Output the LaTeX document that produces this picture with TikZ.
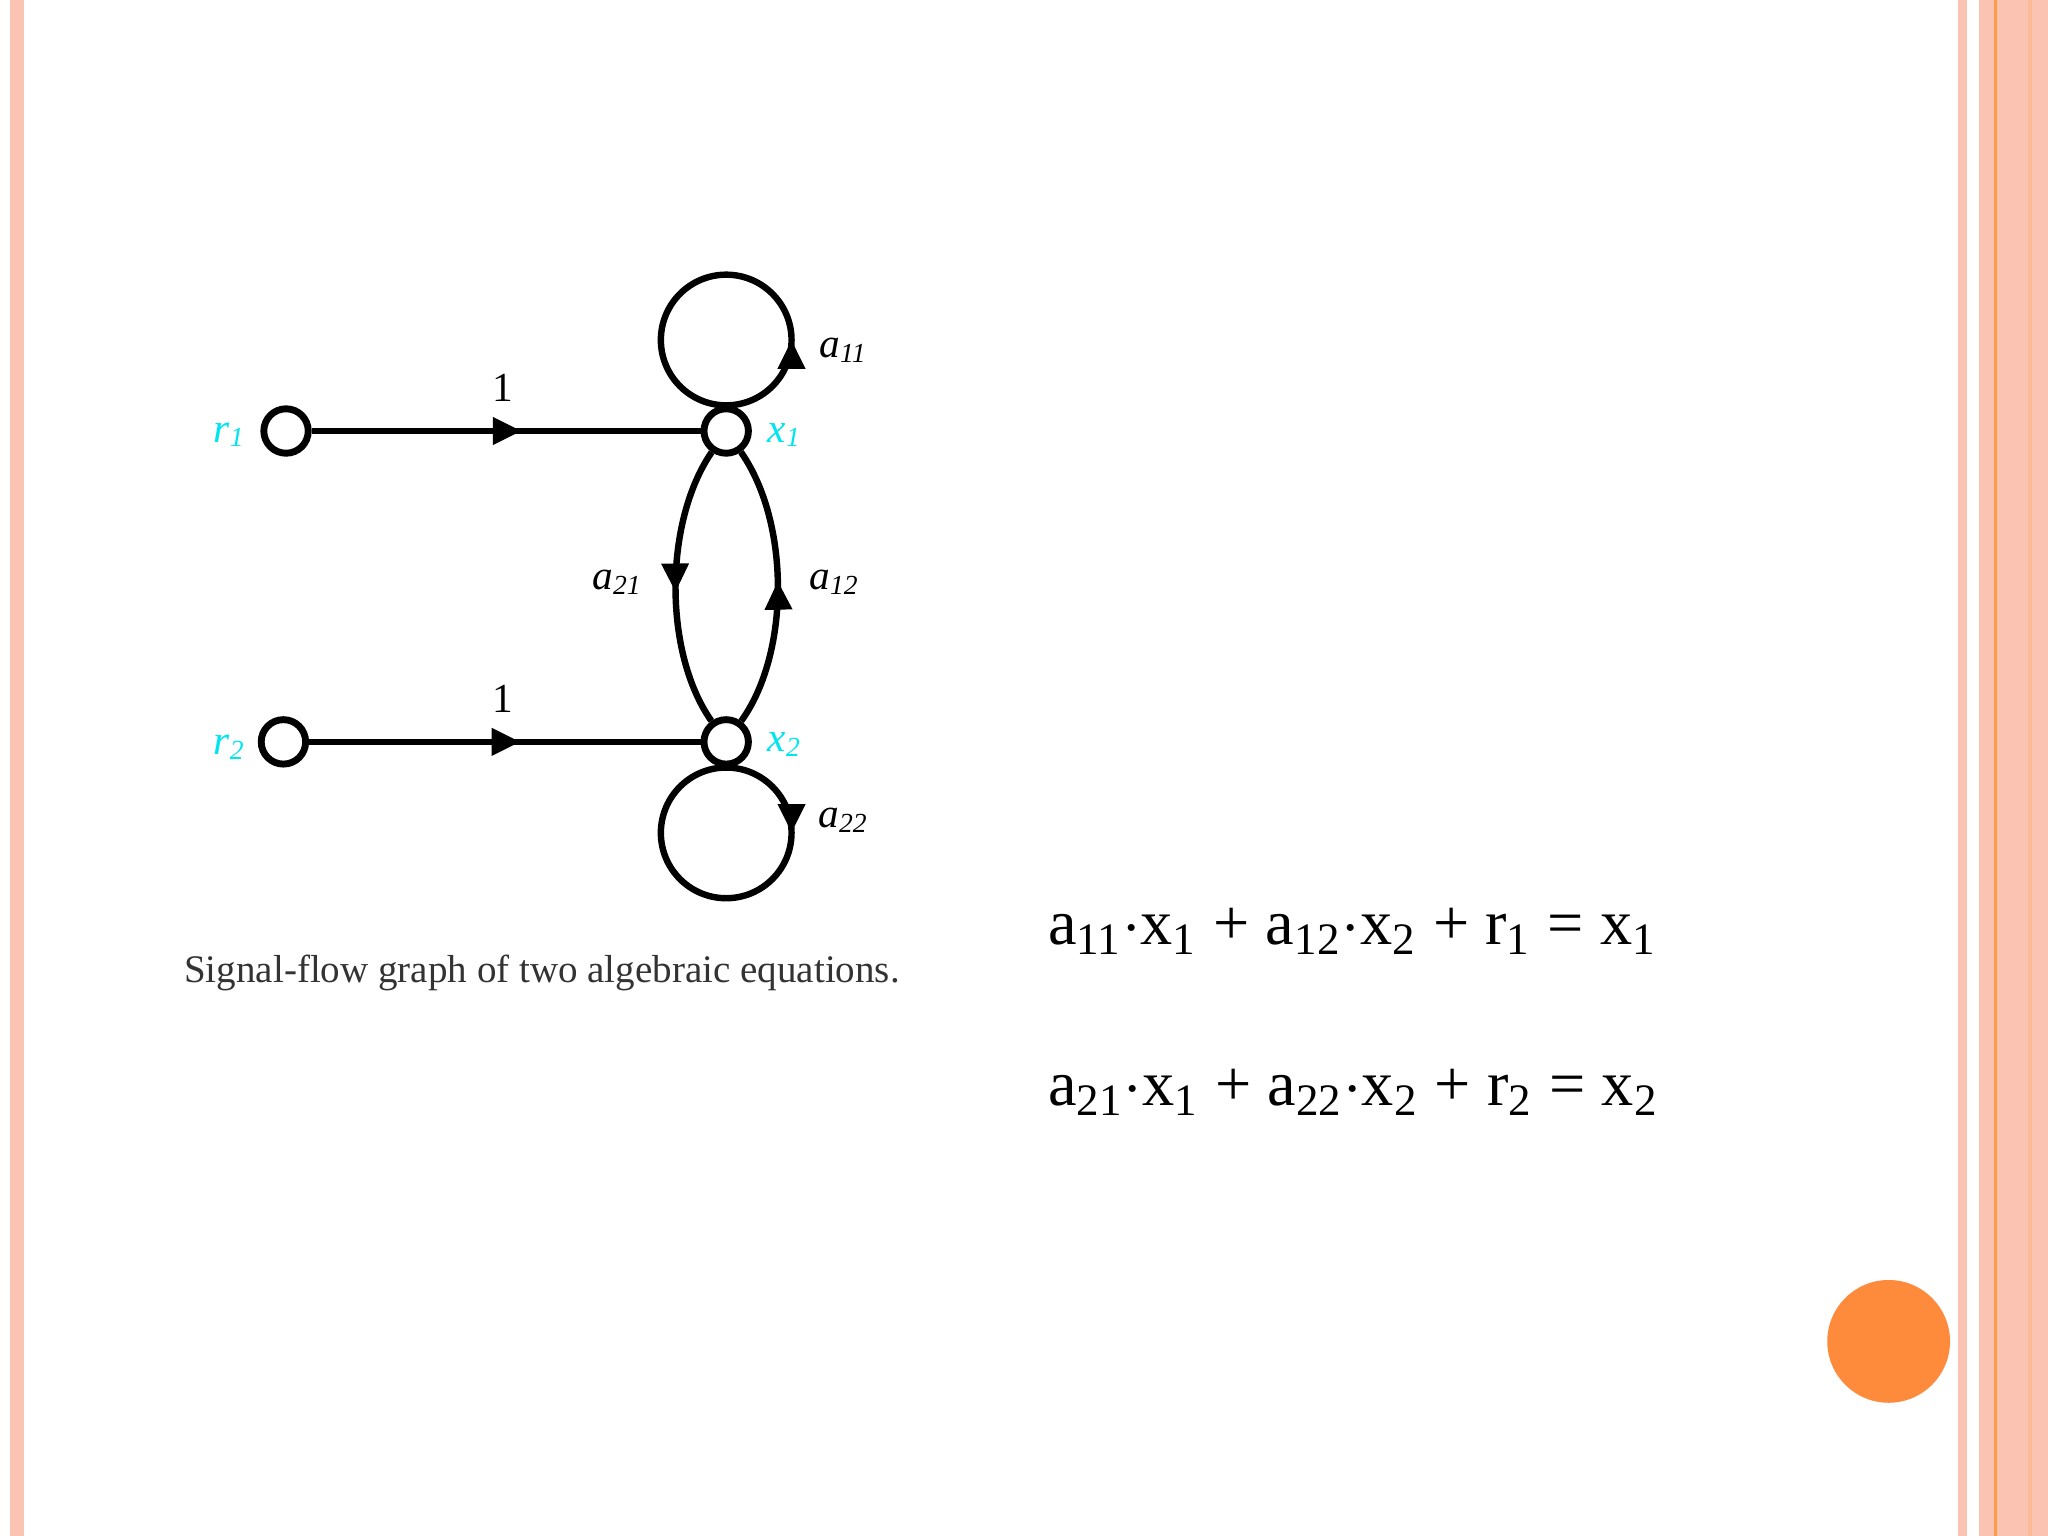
\documentclass[tikz,border=0pt]{standalone}
\usepackage{fontspec}
\setmainfont{Liberation Serif}
\usetikzlibrary{decorations.markings,arrows.meta}
\definecolor{pinkA}{RGB}{251,196,178}
\definecolor{orangeA}{RGB}{254,138,60}
\definecolor{cyanA}{RGB}{0,230,240}
\tikzset{
  sn/.style={circle,draw,line width=1.5pt,inner sep=0pt,minimum size=0.34cm,fill=white},
  br/.style={line width=1.4pt},
  midarr/.style={decoration={markings,mark=at position #1 with {\arrow{Triangle[length=0.22cm,width=0.2cm]}}},postaction={decorate}},
  lab/.style={font=\fontsize{9}{10}\selectfont\itshape},
  clab/.style={lab,text=cyanA},
}
\begin{document}
\begin{tikzpicture}[x=0.01cm,y=-0.01cm]
\useasboundingbox (0,0) rectangle (1568,1176);
\fill[white] (0,0) rectangle (1568,1176);
\fill[pinkA] (8,0) rectangle (18,1176);
\fill[pinkA] (1499,0) rectangle (1506,1176);
\fill[pinkA] (1515,0) rectangle (1568,1176);
\fill[orange!60!pinkA] (1527,0) rectangle (1529,1176);
\fill[pinkA!85!orange] (1553,0) rectangle (1556,1176);
\fill[orangeA] (1446,1027) circle (47);
% graph
\node[sn] (r1) at (219,330) {};
\node[sn] (x1) at (556,330) {};
\node[sn] (r2) at (217,568) {};
\node[sn] (x2) at (556,568) {};
\draw[br,midarr=0.54] (r1) -- (x1);
\draw[br,midarr=0.54] (r2) -- (x2);
\draw[br,midarr=0.52] (x1) .. controls (508,400) and (508,500) .. (x2);
\draw[br,midarr=0.52] (x2) .. controls (605,500) and (605,400) .. (x1);
\draw[br,midarr=0.25] (x1.north) arc[start angle=-90,end angle=270,radius=0.5cm];
\draw[br,midarr=0.25] (x2.south) arc[start angle=90,end angle=-270,radius=0.5cm];
\node[clab] at (176,333) {r\textsubscript{1}};
\node[clab] at (601,333) {x\textsubscript{1}};
\node[clab] at (176,572) {r\textsubscript{2}};
\node[clab] at (601,570) {x\textsubscript{2}};
\node[lab] at (646,268) {a\textsubscript{11}};
\node[lab] at (646,628) {a\textsubscript{22}};
\node[lab] at (473,446) {a\textsubscript{21}};
\node[lab] at (639,446) {a\textsubscript{12}};
\node[font=\fontsize{9}{10}\selectfont] at (385,297) {1};
\node[font=\fontsize{9}{10}\selectfont] at (385,535) {1};
\node[font=\fontsize{8.5}{10}\selectfont,text=black!80] (cap) at (415,745) {Signal-flow graph of two algebraic equations.};
\node[font=\fontsize{14}{16}\selectfont,anchor=west] (e1) at (790,713) {a\textsubscript{11}$\cdot$x\textsubscript{1} + a\textsubscript{12}$\cdot$x\textsubscript{2} + r\textsubscript{1} = x\textsubscript{1}};
\node[font=\fontsize{14}{16}\selectfont,anchor=west] (e2) at (790,836) {a\textsubscript{21}$\cdot$x\textsubscript{1} + a\textsubscript{22}$\cdot$x\textsubscript{2} + r\textsubscript{2} = x\textsubscript{2}};
\end{tikzpicture}
\end{document}
